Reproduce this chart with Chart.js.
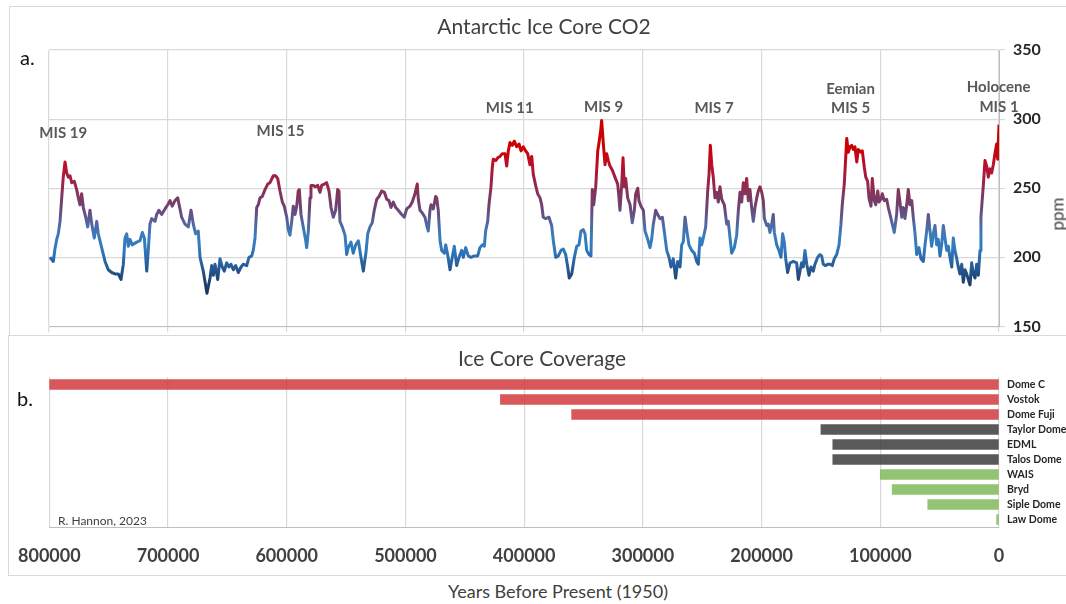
<!DOCTYPE html>
<html>
<head>
<meta charset="utf-8">
<title>Antarctic Ice Core CO2</title>
<script src="https://cdn.jsdelivr.net/npm/chart.js@4.4.1/dist/chart.umd.min.js"></script>
<style>
  html, body { margin: 0; padding: 0; background: #fff; width: 1066px; height: 604px; overflow: hidden; font-family: Lato, "Open Sans", sans-serif; }
  .panel { position: absolute; border: 1px solid #d9d9d9; box-sizing: border-box; }
  #panelA { left: 9px; top: 6px; width: 1070px; height: 330px; }
  #panelB { left: 8px; top: 335px; width: 1070px; height: 241px; }
  canvas { position: absolute; left: 0; }
  #co2 { top: 0; }
  #cov { top: 336px; }
  .txt { position: absolute; white-space: nowrap; line-height: 1; color: #404040; }
  .c { transform: translate(-50%, -50%); }
</style>
</head>
<body>
<div class="panel" id="panelA"></div>
<div class="panel" id="panelB"></div>
<canvas id="co2" width="1066" height="344"></canvas>
<canvas id="cov" width="1066" height="240"></canvas>

<div class="txt c" style="left:544px; top:25px; font-size:21px;">Antarctic Ice Core CO2</div>
<div class="txt c" style="left:542px; top:357px; font-size:21px;">Ice Core Coverage</div>
<div class="txt" style="left:20px; top:47px; font-size:20px; color:#111;">a.</div>
<div class="txt" style="left:17px; top:388px; font-size:20px; color:#111;">b.</div>
<div class="txt" style="left:58px; top:515px; font-size:12px;">R. Hannon, 2023</div>
<div class="txt c" style="left:558px; top:591px; font-size:18px;">Years Before Present (1950)</div>
<div class="txt c" style="left:1057px; top:214px; font-size:17px; transform: translate(-50%, -50%) rotate(-90deg);">ppm</div>

<script>
// CO2 record: age in thousands of years before 1950, concentration in ppm
const co2AgeKyr = [
  799.2, 796.4, 795.0, 793.5, 792.2, 790.7, 789.3, 788.0, 786.5, 785.1,
  783.7, 782.3, 780.9, 778.7, 776.7, 775.3, 773.9, 772.5, 771.1, 769.1,
  767.4, 765.5, 764.0, 761.9, 759.8, 758.5, 757.1, 755.1, 752.8, 750.1,
  747.2, 744.4, 741.6, 739.4, 737.4, 736.0, 734.6, 733.2, 731.8, 729.9,
  726.1, 723.4, 721.4, 719.7, 717.7, 716.4, 715.0, 713.5, 710.7, 709.3,
  707.4, 705.1, 702.3, 700.0, 698.1, 696.2, 693.9, 691.6, 689.7, 688.3,
  685.5, 682.7, 680.4, 678.5, 676.5, 674.3, 672.8, 670.1, 667.0, 664.4,
  663.0, 661.6, 660.2, 657.9, 656.0, 654.1, 652.4, 650.4, 648.4, 646.7,
  644.8, 642.8, 640.6, 638.3, 636.4, 633.5, 631.6, 629.3, 628.0, 626.5,
  625.1, 623.8, 622.3, 620.4, 618.1, 615.8, 613.9, 611.1, 609.1, 607.4,
  605.5, 603.5, 601.9, 599.8, 598.5, 597.1, 595.6, 594.3, 592.8, 591.4,
  590.1, 589.2, 587.8, 585.9, 583.8, 583.0, 581.6, 580.2, 579.4, 577.4,
  576.0, 573.7, 571.8, 570.4, 568.2, 566.2, 564.2, 562.5, 560.6, 558.6,
  556.9, 555.8, 555.0, 553.0, 550.7, 549.3, 548.0, 545.7, 543.8, 541.7,
  539.5, 537.3, 535.3, 533.0, 531.6, 529.7, 527.8, 526.1, 524.0, 522.1,
  519.8, 517.6, 515.6, 513.7, 512.0, 510.1, 508.0, 505.9, 503.0, 500.8,
  498.8, 496.0, 494.1, 491.8, 489.9, 489.0, 487.6, 485.6, 483.4, 481.9,
  480.6, 479.2, 478.3, 476.4, 474.4, 473.5, 472.2, 470.7, 469.3, 467.1,
  465.9, 464.3, 462.3, 460.4, 458.7, 456.7, 454.7, 452.5, 451.1, 449.1,
  446.9, 444.6, 441.9, 439.0, 437.1, 435.1, 433.4, 432.3, 430.6, 429.5,
  427.8, 426.7, 425.9, 423.8, 422.1, 420.2, 418.3, 416.0, 414.6, 413.2,
  411.8, 409.9, 408.2, 406.2, 404.2, 402.5, 400.6, 398.6, 396.9, 395.0,
  393.5, 392.2, 390.2, 388.5, 386.5, 385.1, 383.8, 381.7, 379.0, 376.7,
  375.3, 373.3, 371.1, 368.8, 366.9, 364.9, 363.2, 361.9, 359.8, 357.6,
  355.6, 353.7, 352.0, 350.1, 348.6, 347.2, 345.3, 343.6, 342.5, 341.3,
  339.6, 337.9, 336.8, 335.4, 334.6, 333.2, 331.8, 330.4, 329.0, 327.6,
  325.6, 323.4, 321.1, 320.0, 319.2, 317.7, 316.6, 315.5, 314.4, 312.7,
  310.7, 308.8, 307.1, 305.9, 304.2, 303.2, 301.5, 299.5, 298.1, 295.8,
  293.9, 292.5, 291.1, 289.1, 287.4, 285.5, 283.5, 281.9, 279.8, 277.9,
  276.2, 274.3, 272.3, 270.6, 268.6, 267.2, 265.9, 264.4, 263.0, 261.1,
  258.8, 256.6, 254.6, 253.2, 251.8, 250.4, 249.0, 247.0, 245.3, 244.2,
  243.1, 241.9, 240.6, 239.2, 237.7, 236.4, 235.0, 233.5, 231.3, 229.3,
  228.0, 226.5, 225.1, 222.9, 220.9, 219.5, 218.1, 216.7, 215.3, 213.9,
  212.5, 211.1, 209.7, 208.3, 206.9, 205.5, 204.0, 202.7, 201.3, 199.8,
  198.5, 197.6, 195.6, 194.3, 192.9, 191.4, 190.1, 189.2, 187.2, 185.3,
  183.6, 182.2, 180.8, 179.6, 178.0, 176.0, 173.2, 170.4, 169.0, 167.6,
  166.2, 164.8, 163.4, 161.9, 160.0, 158.3, 156.4, 155.0, 152.7, 150.7,
  149.3, 148.0, 145.9, 144.3, 142.3, 140.4, 138.7, 136.7, 134.7, 133.1,
  132.0, 130.3, 129.1, 128.2, 126.9, 125.5, 124.0, 122.7, 121.3, 119.8,
  118.5, 116.2, 115.1, 113.4, 112.2, 110.6, 109.5, 107.8, 106.7, 105.0,
  103.8, 102.1, 101.0, 99.4, 98.3, 96.6, 94.6, 93.2, 91.8, 90.4,
  88.2, 86.2, 84.8, 83.4, 81.9, 80.6, 79.2, 77.7, 76.4, 75.0,
  73.5, 72.2, 70.7, 69.3, 67.4, 65.7, 63.7, 62.3, 60.9, 59.5,
  58.1, 56.7, 55.3, 53.9, 52.5, 51.1, 49.7, 48.3, 46.9, 45.5,
  44.0, 42.7, 41.3, 39.8, 38.5, 37.1, 35.6, 34.3, 32.9, 31.4,
  30.1, 28.6, 27.2, 25.9, 24.4, 23.0, 21.7, 20.2, 18.8, 17.4,
  16.0, 15.2, 14.1, 13.2, 11.8, 10.4, 9.0, 7.6, 6.2, 4.8,
  3.4, 2.0, 1.1, 0.0
];
const co2Ppm = [
  200, 197, 206, 213, 217, 226, 243, 258, 269, 261,
  258, 259, 254, 255, 249, 243, 238, 246, 236, 229,
  222, 234, 224, 214, 226, 217, 212, 205, 197, 191,
  189, 188, 188, 184, 195, 214, 217, 208, 213, 209,
  211, 212, 218, 214, 190, 205, 224, 228, 226, 231,
  234, 231, 235, 238, 241, 237, 241, 243, 235, 229,
  224, 222, 234, 224, 217, 219, 200, 190, 174, 185,
  194, 187, 195, 184, 199, 193, 190, 196, 193, 195,
  191, 194, 189, 193, 195, 194, 200, 201, 205, 214,
  236, 238, 243, 244, 249, 253, 254, 259, 259, 257,
  248, 240, 237, 229, 220, 216, 226, 237, 231, 237,
  248, 249, 231, 222, 212, 207, 219, 243, 252, 252,
  251, 252, 247, 252, 253, 254, 248, 236, 229, 234,
  249, 248, 226, 222, 216, 202, 207, 211, 203, 209,
  212, 200, 190, 204, 217, 222, 225, 234, 242, 244,
  248, 247, 242, 241, 236, 240, 236, 234, 231, 229,
  235, 237, 240, 246, 253, 242, 234, 232, 229, 223,
  219, 234, 238, 235, 244, 243, 234, 212, 205, 203,
  209, 202, 191, 200, 208, 194, 200, 205, 200, 207,
  201, 200, 201, 201, 207, 209, 208, 219, 226, 238,
  251, 265, 271, 270, 272, 273, 275, 275, 266, 277,
  283, 281, 284, 280, 282, 277, 280, 277, 275, 267,
  273, 260, 252, 246, 243, 238, 229, 228, 229, 223,
  212, 200, 201, 205, 206, 202, 193, 185, 188, 200,
  208, 209, 219, 220, 217, 205, 202, 201, 249, 238,
  251, 277, 283, 292, 299, 282, 267, 275, 270, 266,
  263, 258, 253, 243, 234, 253, 272, 251, 257, 243,
  238, 225, 234, 246, 250, 241, 237, 234, 219, 213,
  207, 213, 224, 234, 231, 228, 229, 219, 205, 200,
  193, 199, 185, 197, 193, 209, 211, 229, 220, 209,
  205, 203, 197, 195, 214, 209, 214, 222, 248, 260,
  281, 267, 258, 243, 247, 240, 251, 242, 238, 224,
  226, 214, 203, 207, 216, 234, 247, 240, 254, 246,
  257, 241, 249, 236, 226, 236, 243, 248, 251, 247,
  241, 228, 223, 224, 218, 224, 231, 218, 209, 205,
  200, 217, 211, 199, 189, 196, 197, 196, 184, 190,
  196, 193, 205, 195, 187, 193, 190, 195, 200, 202,
  201, 195, 194, 195, 195, 194, 199, 202, 209, 224,
  238, 253, 272, 286, 276, 280, 281, 278, 280, 269,
  278, 276, 277, 265, 258, 255, 243, 237, 257, 241,
  238, 248, 240, 242, 246, 241, 242, 236, 231, 226,
  218, 231, 249, 240, 229, 236, 228, 238, 249, 238,
  241, 229, 217, 202, 207, 199, 197, 209, 219, 231,
  219, 208, 217, 223, 209, 213, 201, 209, 223, 214,
  205, 208, 200, 193, 214, 205, 199, 193, 188, 195,
  182, 191, 188, 184, 180, 196, 188, 185, 195, 187,
  205, 229, 242, 252, 270, 266, 258, 264, 261, 267,
  275, 282, 271, 296
];

// Interglacial (marine isotope stage) annotations
const misText   = ['MIS 19', 'MIS 15', 'MIS 11', 'MIS 9', 'MIS 7', 'Eemian', 'MIS 5', 'Holocene', 'MIS 1'];
const misAgeYr  = [788000, 605000, 412000, 333000, 240000, 125000, 125000, 300, 0];
const misAtPpm  = [290, 291, 308, 309, 308, 322, 308, 323, 309];

// Ice core records and the oldest age each one reaches
const coreNames      = ['Dome C', 'Vostok', 'Dome Fuji', 'Taylor Dome', 'EDML', 'Talos Dome', 'WAIS', 'Bryd', 'Siple Dome', 'Law Dome'];
const coreStartYears = [800000, 420000, 360000, 150000, 140000, 140000, 100000, 90000, 60000, 2000];

// X axis ticks (years before present)
const yearTicks = [800000, 700000, 600000, 500000, 400000, 300000, 200000, 100000, 0];

// ---- styling ----
const RED = 'rgba(208,57,61,0.85)', GREY = 'rgba(60,60,60,0.85)', GREEN = 'rgba(128,186,90,0.85)';
const barColors = [RED, RED, RED, GREY, GREY, GREY, GREEN, GREEN, GREEN, GREEN];
const FONT = 'Lato, "Open Sans", sans-serif';

const co2Points = co2AgeKyr.map((a, i) => ({ x: Math.round(a * 1000), y: co2Ppm[i] }));

// colour ramp keyed on concentration: navy for glacial lows, red for interglacial highs
const colourStops = [
  [175, '#1b3760'], [186, '#21497c'], [196, '#2862a0'], [206, '#2f7abd'],
  [216, '#3b7cba'], [226, '#57629a'], [236, '#6d4474'], [246, '#82355c'],
  [256, '#9e2242'], [268, '#bb0d26'], [280, '#cc0000'], [300, '#cc0000']
];
let gradCache = null, gradTop = null;
function lineGradient(chart) {
  const { ctx, chartArea, scales } = chart;
  if (!chartArea) return '#7a3a66';
  const yLow = scales.y.getPixelForValue(175);
  const yHigh = scales.y.getPixelForValue(300);
  if (gradCache && gradTop === yHigh) return gradCache;
  const g = ctx.createLinearGradient(0, yLow, 0, yHigh);
  colourStops.forEach(([v, c]) => g.addColorStop((v - 175) / (300 - 175), c));
  gradCache = g; gradTop = yHigh;
  return g;
}

const misLabelPlugin = {
  id: 'misLabels',
  afterDatasetsDraw(chart) {
    const { ctx, scales: { x, y } } = chart;
    ctx.save();
    ctx.font = 'bold 15px ' + FONT;
    ctx.fillStyle = '#595959';
    ctx.textAlign = 'center';
    ctx.textBaseline = 'middle';
    misText.forEach((t, i) => ctx.fillText(t, x.getPixelForValue(misAgeYr[i]), y.getPixelForValue(misAtPpm[i])));
    ctx.restore();
  }
};

new Chart(document.getElementById('co2'), {
  type: 'line',
  data: {
    datasets: [{
      data: co2Points,
      borderColor: (c) => lineGradient(c.chart),
      borderWidth: 3,
      borderJoinStyle: 'round',
      pointRadius: 0,
      tension: 0,
      fill: false
    }]
  },
  options: {
    responsive: false,
    animation: false,
    events: [],
    layout: { padding: { left: 49, top: 50, right: 0, bottom: 0 } },
    plugins: { legend: { display: false }, tooltip: { enabled: false }, title: { display: false } },
    scales: {
      x: {
        type: 'linear', min: 0, max: 800000, reverse: true,
        afterBuildTicks: (s) => { s.ticks = yearTicks.map(v => ({ value: v })); },
        ticks: { display: false },
        grid: { color: '#d9d9d9', lineWidth: 1.2, tickLength: 6 },
        border: { color: '#bfbfbf' },
        afterFit: (s) => { s.height = 10; }
      },
      y: {
        position: 'right', min: 150, max: 350,
        ticks: { stepSize: 50, padding: 8, color: '#262626', font: { family: FONT, size: 16, weight: 'bold' } },
        grid: { color: '#d9d9d9', lineWidth: 1.2, tickLength: 6 },
        border: { color: '#bfbfbf' },
        afterFit: (s) => { s.width = 67; }
      }
    }
  },
  plugins: [misLabelPlugin]
});

new Chart(document.getElementById('cov'), {
  type: 'bar',
  data: {
    labels: coreNames,
    datasets: [{ data: coreStartYears, backgroundColor: barColors, borderWidth: 0, barThickness: 10 }]
  },
  options: {
    indexAxis: 'y',
    responsive: false,
    animation: false,
    events: [],
    layout: { padding: { left: 49, top: 41, right: 0, bottom: 0 } },
    plugins: { legend: { display: false }, tooltip: { enabled: false } },
    scales: {
      x: {
        type: 'linear', min: 0, max: 800000, reverse: true,
        afterBuildTicks: (s) => { s.ticks = yearTicks.map(v => ({ value: v })); },
        ticks: {
          padding: 18, color: '#404040', maxRotation: 0, autoSkip: false,
          font: { family: FONT, size: 18, weight: 'bold' },
          callback: (v) => String(v)
        },
        grid: { color: '#d9d9d9', lineWidth: 1.2, drawTicks: false },
        border: { color: '#bfbfbf' },
        afterFit: (s) => { s.height = 49; }
      },
      y: {
        position: 'right',
        ticks: { padding: 8, color: '#262626', autoSkip: false, font: { family: FONT, size: 10.5, weight: 'bold' } },
        grid: { display: false, drawTicks: false },
        border: { display: false },
        afterFit: (s) => { s.width = 67; }
      }
    }
  }
});
</script>
</body>
</html>
